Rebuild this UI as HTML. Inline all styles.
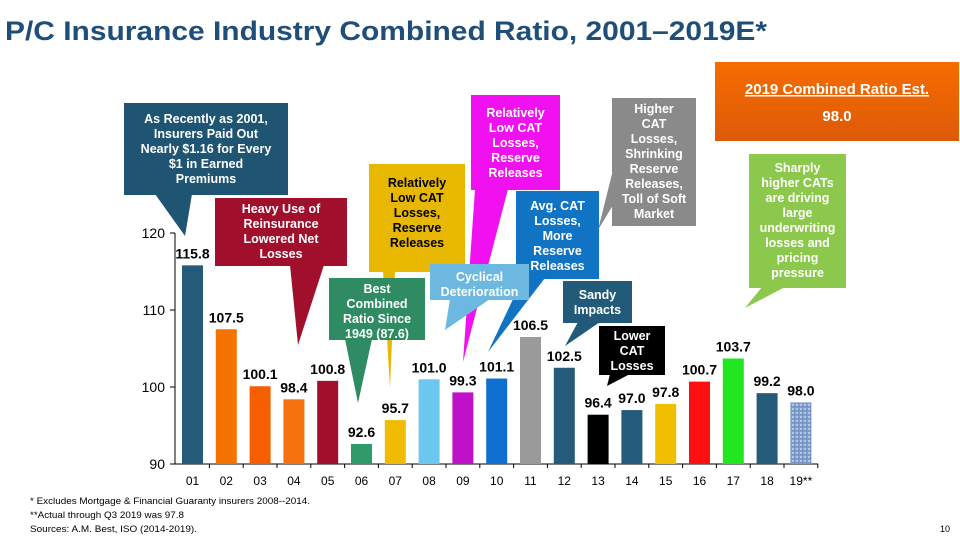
<!DOCTYPE html>
<html><head><meta charset="utf-8"><style>
body{margin:0;width:960px;height:540px;overflow:hidden;background:#fff;font-family:"Liberation Sans",Arial,sans-serif}
svg{position:absolute;left:0;top:0}
</style></head><body>
<svg width="960" height="540" viewBox="0 0 960 540">
<defs>
<pattern id="hatch" width="4" height="4" patternUnits="userSpaceOnUse"><rect width="4" height="4" fill="#7f9bc8"/><rect width="2" height="2" fill="#b7c8e4"/><rect x="2" y="2" width="1" height="1" fill="#5a7bb0"/></pattern>
<linearGradient id="og" x1="0" y1="0" x2="0" y2="1"><stop offset="0" stop-color="#f66c00"/><stop offset="1" stop-color="#dd5a08"/></linearGradient>
</defs>
<text x="5" y="40" font-size="27" font-weight="bold" fill="#1f4e79" textLength="762" lengthAdjust="spacingAndGlyphs">P/C Insurance Industry Combined Ratio, 2001–2019E*</text>
<g id="axes"></g>
<g id="bars"></g>
<g id="callouts"></g>
<text x="30" y="504" font-size="9" fill="#000" textLength="280" lengthAdjust="spacingAndGlyphs">* Excludes Mortgage &amp; Financial Guaranty insurers 2008--2014.</text>
<text x="30" y="518" font-size="9" fill="#000" textLength="154" lengthAdjust="spacingAndGlyphs">**Actual through Q3 2019 was 97.8</text>
<text x="30" y="532" font-size="9" fill="#000" textLength="167" lengthAdjust="spacingAndGlyphs">Sources: A.M. Best, ISO (2014-2019).</text>
<text x="940" y="532" font-size="9" fill="#000">10</text>
</svg>
<script>
const categories=["01","02","03","04","05","06","07","08","09","10","11","12","13","14","15","16","17","18","19**"];
const values=[115.8,107.5,100.1,98.4,100.8,92.6,95.7,101.0,99.3,101.1,106.5,102.5,96.4,97.0,97.8,100.7,103.7,99.2,98.0];
const valueLabels=["115.8","107.5","100.1","98.4","100.8","92.6","95.7","101.0","99.3","101.1","106.5","102.5","96.4","97.0","97.8","100.7","103.7","99.2","98.0"];
const yTicks=[90,100,110,120];
const colors=["#245a7a","#f57300","#f55f00","#f5720f","#a10f2b","#2f9a6a","#f0bb00","#6cc7ef","#c010c8","#0f6fd0","#9a9a9a","#245a7a","#000000","#245a7a","#f0bf00","#ff1010","#22e622","#245a7a","url(#hatch)"];
const NS="http://www.w3.org/2000/svg";
function y(v){return 464-(v-90)*7.7;}
function x(i){return 192.5+i*33.8;}
function mk(tag,attrs,parent){const e=document.createElementNS(NS,tag);for(const k in attrs)e.setAttribute(k,attrs[k]);parent.appendChild(e);return e;}
const ax=document.getElementById('axes');
const axl=mk('line',{x1:175,y1:y(90),x2:818,y2:y(90),stroke:'#000','stroke-width':1},ax);


const ayl=mk('line',{x1:175,y1:y(90),x2:175,y2:y(120),stroke:'#000','stroke-width':1},ax);


yTicks.forEach(t=>{
  mk('line',{x1:170,y1:y(t),x2:175,y2:y(t),stroke:'#000'},ax);
  const tx=mk('text',{x:165,y:y(t)+5,'font-size':14,'text-anchor':'end',fill:'#000'},ax);
  tx.textContent=t;
  
  
});
const bg=document.getElementById('bars');
categories.forEach((c,i)=>{
  mk('line',{x1:x(i)+16.9,y1:y(90),x2:x(i)+16.9,y2:y(90)+4,stroke:'#000'},ax);
  const r=mk('rect',{x:x(i)-10.5,y:y(values[i]),width:21,height:y(90)-y(values[i]),fill:colors[i]},bg);
  
  
  const lb=mk('text',{x:x(i),y:y(values[i])-7,'font-size':14,'font-weight':'bold','text-anchor':'middle',fill:'#000'},bg);
  lb.textContent=valueLabels[i];
  
  
  const xl=mk('text',{x:x(i),y:485,'font-size':12,'text-anchor':'middle',fill:'#000'},bg);
  xl.textContent=c;
  
  
});
const cg=document.getElementById('callouts');
function callout(name,bx,by,bw,bh,fill,tail,lines,tcol,fs,lh,ty){
  const g=mk('g',{},cg);
  
  
  mk('polygon',{points:tail,fill:fill},g);
  mk('rect',{x:bx,y:by,width:bw,height:bh,fill:fill},g);
  lines.forEach((l,k)=>{const t=mk('text',{x:bx+bw/2,y:ty+k*lh,'font-size':fs,'font-weight':'bold','text-anchor':'middle',fill:tcol},g);t.textContent=l;});
  return g;
}
callout('callout-2001',124,103,164,92,'#1f5573','155,194 192,194 185,236',["As Recently as 2001,","Insurers Paid Out","Nearly $1.16 for Every","$1 in Earned","Premiums"],'#fff',12.5,15,123);
callout('callout-reinsurance',215,198,132,68,'#a0102c','290,265 324,265 298,345',["Heavy Use of","Reinsurance","Lowered Net","Losses"],'#fff',12.5,15,213);
callout('callout-gold',369,164,96,108,'#e8b800','383,271 395,271 390,388',["Relatively","Low CAT","Losses,","Reserve","Releases"],'#000',12.5,15,187);
callout('callout-best',329,278,96,62,'#2e8b62','345,339 372,339 358,403',["Best","Combined","Ratio Since","1949 (87.6)"],'#fff',12.5,15,293);
callout('callout-magenta',471,95,89,95,'#f010f0','475,189 508,189 463,362',["Relatively","Low CAT","Losses,","Reserve","Releases"],'#fff',12.5,15,117);
callout('callout-avg-cat',516,191,83,88,'#1173c4','523,278 545,278 488,352',["Avg. CAT","Losses,","More","Reserve","Releases"],'#fff',12.5,15,210);
callout('callout-cyclical',430,264,99,36,'#6cb8e0','450,299 490,299 445,330',["Cyclical","Deterioration"],'#fff',12.5,15,281);
callout('callout-gray',612,98,84,128,'#8a8a8a','613,170 613,205 598,230',["Higher","CAT","Losses,","Shrinking","Reserve","Releases,","Toll of Soft","Market"],'#fff',12.5,15,113);
callout('callout-sandy',563,281,69,42,'#225a7a','578,322 600,322 565,346',["Sandy","Impacts"],'#fff',12.5,15,299);
callout('callout-lower-cat',599,326,66,49,'#000','610,374 630,374 607,386',["Lower","CAT","Losses"],'#fff',12.5,15,340);
callout('callout-sharply',749,154,97,134,'#8cc84b','762,287 785,287 745,308',["Sharply","higher CATs","are driving","large","underwriting","losses and","pricing","pressure"],'#fff',12.5,15,172);
const og=mk('g',{},cg);


mk('rect',{x:715,y:62,width:244,height:79,fill:'url(#og)'},og);
const t1=mk('text',{x:837,y:94,'font-size':15,'font-weight':'bold','text-anchor':'middle',fill:'#fff','text-decoration':'underline'},og);
t1.textContent='2019 Combined Ratio Est.';
const t2=mk('text',{x:837,y:121,'font-size':15,'font-weight':'bold','text-anchor':'middle',fill:'#fff'},og);
t2.textContent='98.0';
</script>
</body></html>
